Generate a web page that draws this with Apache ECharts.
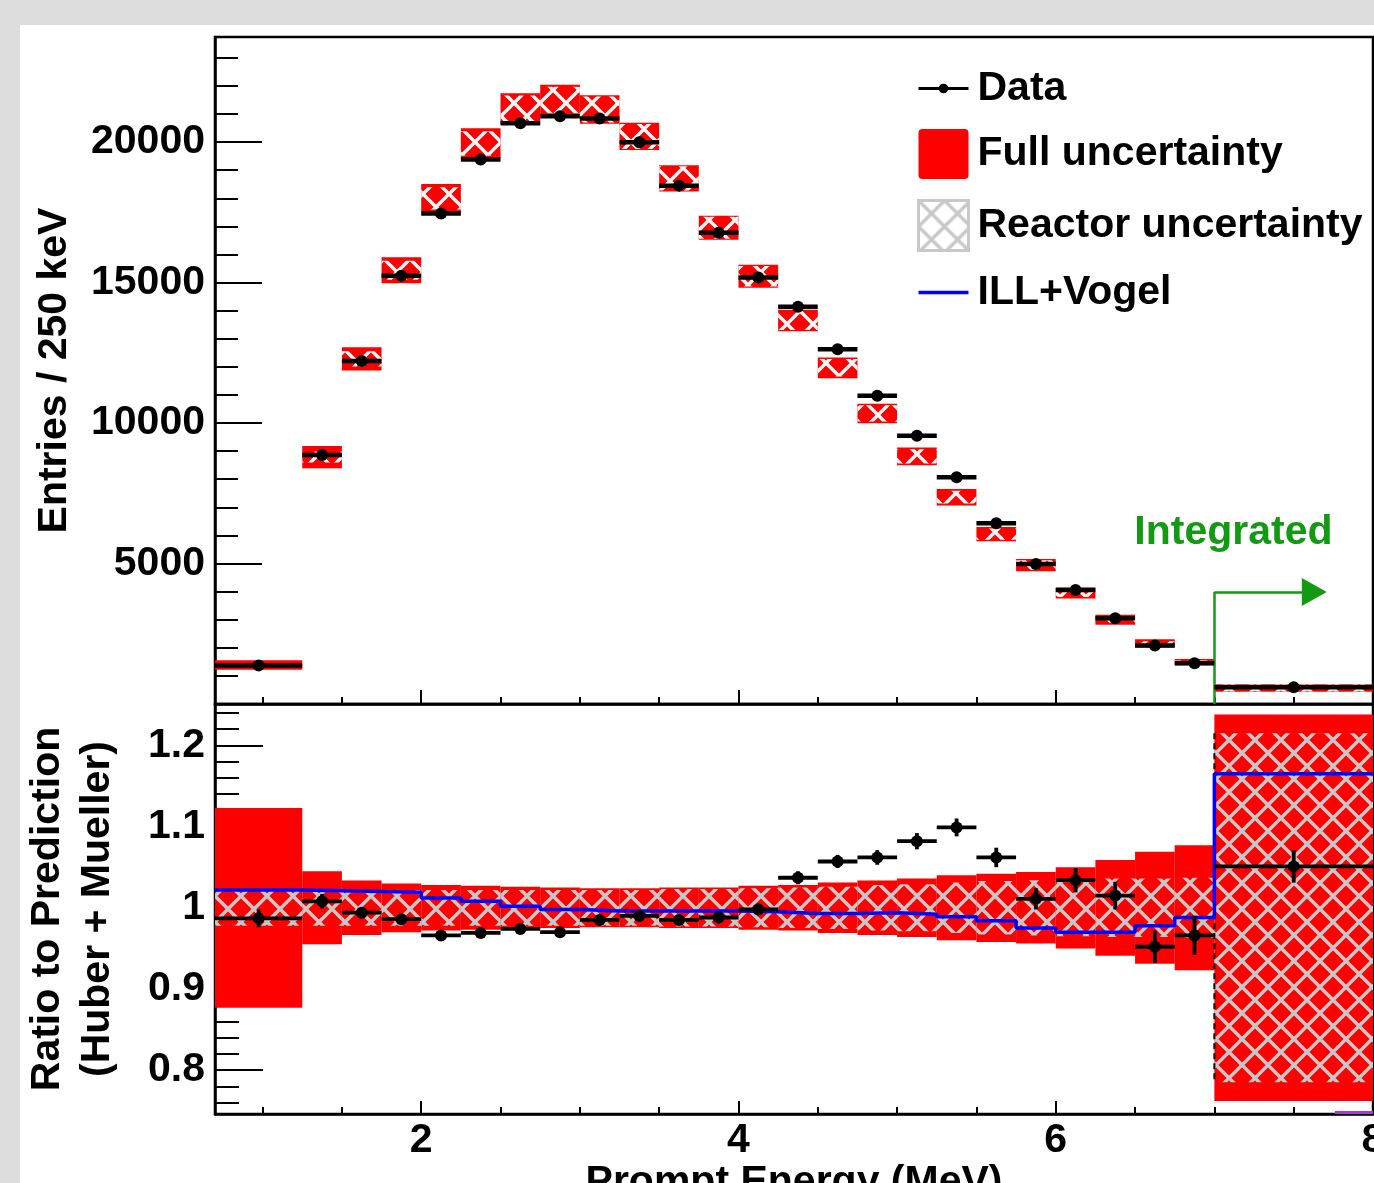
<!DOCTYPE html>
<html>
<head>
<meta charset="utf-8">
<title>Prompt energy spectrum</title>
<script src="https://cdn.jsdelivr.net/npm/echarts@6/dist/echarts.min.js"></script>
<style>
  html, body { margin: 0; padding: 0; background: #dcdcdc; }
  #chart { position: absolute; left: 20px; top: 25px; width: 1354px; height: 1158px; background: #fff; }
</style>
</head>
<body>
<div id="chart"></div>
<script>
// bin edges (MeV): first bin is wide, last one is the integrated 7-8 MeV bin
const edges = [0.7, 1.25, 1.5, 1.75, 2.0, 2.25, 2.5, 2.75, 3.0, 3.25, 3.5, 3.75, 4.0,
  4.25, 4.5, 4.75, 5.0, 5.25, 5.5, 5.75, 6.0, 6.25, 6.5, 6.75, 7.0, 8.0];

// top panel: measured entries and predicted (box centre)
const counts = [1370, 8860, 12210, 15240, 17460, 19380, 20670, 20920, 20840, 19990, 18450, 16770,
  15180, 14140, 12630, 10970, 9550, 8070, 6430, 4980, 4060, 3050, 2080, 1450, 595];
const predicted = [1385, 8790, 12285, 15440, 18000, 19950, 21190, 21500, 21160, 20200, 18710, 16950,
  15225, 13650, 11965, 10340, 8815, 7360, 6050, 4945, 3950, 3000, 2160, 1490, 570];

// bottom panel: ratio to prediction and its error
const ratio = [0.987, 1.008, 0.994, 0.986, 0.966, 0.969, 0.974, 0.970, 0.985, 0.990, 0.985, 0.988,
  0.998, 1.037, 1.057, 1.062, 1.082, 1.099, 1.062, 1.011, 1.034, 1.015, 0.952, 0.966, 1.051];
const ratioErr = [0.011, 0.009, 0.007, 0.006, 0.006, 0.006, 0.006, 0.006, 0.006, 0.006, 0.006, 0.007,
  0.007, 0.008, 0.008, 0.009, 0.010, 0.011, 0.012, 0.013, 0.015, 0.017, 0.020, 0.024, 0.020];

// relative uncertainties (half widths)
const fullUnc = [0.123, 0.045, 0.0335, 0.030, 0.028, 0.027, 0.026, 0.025, 0.024, 0.024, 0.025, 0.025,
  0.027, 0.028, 0.031, 0.0335, 0.036, 0.040, 0.042, 0.044, 0.050, 0.059, 0.069, 0.077, 0.238];
const reactorUnc = [0.022, 0.022, 0.022, 0.022, 0.022, 0.022, 0.022, 0.022, 0.022, 0.022, 0.023, 0.023,
  0.024, 0.025, 0.026, 0.028, 0.029, 0.031, 0.033, 0.034, 0.035, 0.036, 0.036, 0.037, 0.215];

// ILL+Vogel / (Huber + Mueller)
const illVogel = [1.022, 1.021, 1.020, 1.019, 1.012, 1.008, 1.002, 0.998, 0.996, 0.996, 0.996, 0.996,
  0.995, 0.993, 0.993, 0.994, 0.992, 0.989, 0.984, 0.975, 0.970, 0.970, 0.978, 0.988, 1.165];

// short purple curve clipped at the bottom right edge
const clippedCurve = [[7.76, 0.748], [8.0, 0.748]];

const xMajorTicks = [2, 4, 6, 8];
const yTopLabels = [5000, 10000, 15000, 20000];
const yBottomLabels = [0.8, 0.9, 1, 1.1, 1.2];

const FONT = 'Liberation Sans';
const GREEN = '#129a12';

function range(a, b, step) {
  const out = [];
  for (let v = a; v <= b + step / 2; v += step) out.push(Math.round(v * 1000) / 1000);
  return out;
}
const xMinorTicks = range(1, 8, 0.5);
const yTopMinor = range(1000, 23000, 1000);
const yBottomMinor = range(0.76, 1.24, 0.02);

// cross-hatch tile, diamonds repeat every size/2 px
function hatch(color, size, width) {
  const c = document.createElement('canvas');
  c.width = c.height = size;
  const ctx = c.getContext('2d');
  ctx.strokeStyle = color;
  ctx.lineWidth = width;
  ctx.beginPath();
  for (const k of [-size, 0, size]) {
    ctx.moveTo(k - 2, -2); ctx.lineTo(k + size + 2, size + 2);
    ctx.moveTo(k - 2, size + 2); ctx.lineTo(k + size + 2, -2);
  }
  ctx.stroke();
  return { image: c, repeat: 'repeat' };
}
const hatchTop = hatch('#f8f8f8', 26, 3.4);
const hatchBottom = hatch('#c8c8c8', 26, 3.4);

const bins = edges.slice(0, -1).map((e, i) => [e, edges[i + 1]]);
const band = (centre, unc) => bins.map(([lo, hi], i) => {
  const c = Array.isArray(centre) ? centre[i] : centre;
  return [lo, hi, c * (1 - unc[i]), c * (1 + unc[i])];
});
const topPoints = bins.map(([lo, hi], i) => [lo, hi, counts[i], 0]);
const ratioPoints = bins.map(([lo, hi], i) => [lo, hi, ratio[i], ratioErr[i]]);
const illLine = bins.map(([lo], i) => [lo, illVogel[i]]).concat([[edges[edges.length - 1], illVogel[illVogel.length - 1]]]);

function boxItem(fill, dashLast) {
  return function (params, api) {
    const a = api.coord([api.value(0), api.value(3)]);
    const b = api.coord([api.value(1), api.value(2)]);
    const children = [{
      type: 'rect',
      shape: { x: a[0], y: a[1], width: b[0] - a[0], height: b[1] - a[1] },
      style: { fill }
    }];
    if (dashLast && params.dataIndex === params.dataInsideLength - 1) {
      children.push({
        type: 'line',
        shape: { x1: a[0], y1: a[1], x2: a[0], y2: b[1] },
        style: { stroke: '#000', lineWidth: 2, lineDash: [6, 4] }
      });
    }
    return { type: 'group', children };
  };
}

function pointItem(barW, dotR, errW) {
  return function (params, api) {
    const y = api.value(2), e = api.value(3);
    const l = api.coord([api.value(0), y]);
    const r = api.coord([api.value(1), y]);
    const xc = (l[0] + r[0]) / 2;
    const children = [
      { type: 'line', shape: { x1: l[0], y1: l[1], x2: r[0], y2: r[1] }, style: { stroke: '#000', lineWidth: barW } },
      { type: 'circle', shape: { cx: xc, cy: l[1], r: dotR }, style: { fill: '#000' } }
    ];
    if (e > 0) {
      const t = api.coord([api.value(0), y + e]);
      const b = api.coord([api.value(0), y - e]);
      children.push({ type: 'line', shape: { x1: xc, y1: t[1], x2: xc, y2: b[1] }, style: { stroke: '#000', lineWidth: errW } });
    }
    return { type: 'group', children };
  };
}

const axisFont = { fontFamily: FONT, fontWeight: 'bold', fontSize: 41, color: '#000' };
const tickStyle = { color: '#000', width: 2 };
const frameStyle = { color: '#000', width: 2.5 };

function ticksOnly(dim, gridIndex, min, max, values, length) {
  return {
    gridIndex, type: 'value', position: dim === 'x' ? 'bottom' : 'left', min, max,
    axisLine: { show: false },
    axisTick: { show: true, inside: true, length, customValues: values, lineStyle: tickStyle },
    axisLabel: { show: false },
    splitLine: { show: false }
  };
}

const chart = echarts.init(document.getElementById('chart'));

chart.setOption({
  animation: false,
  backgroundColor: '#fff',
  grid: [
    { left: 195, right: 1, top: 12, height: 667, show: true, borderColor: '#000', borderWidth: 2.5, outerBoundsMode: 'none' },
    { left: 195, right: 1, top: 679, height: 410, show: true, borderColor: '#000', borderWidth: 2.5, outerBoundsMode: 'none' }
  ],
  xAxis: [
    ticksOnly('x', 0, 0.7, 8, xMinorTicks, 7),
    {
      gridIndex: 0, type: 'value', position: 'bottom', min: 0.7, max: 8,
      axisLine: { onZero: false, lineStyle: frameStyle },
      axisTick: { inside: true, length: 14, customValues: xMajorTicks, lineStyle: tickStyle },
      axisLabel: { show: false },
      splitLine: { show: false }
    },
    ticksOnly('x', 1, 0.7, 8, xMinorTicks, 7),
    {
      gridIndex: 1, type: 'value', position: 'bottom', min: 0.7, max: 8,
      axisLine: { onZero: false, lineStyle: frameStyle },
      axisTick: { inside: true, length: 13, customValues: xMajorTicks, lineStyle: tickStyle },
      axisLabel: { customValues: xMajorTicks, margin: 6, formatter: v => String(v), ...axisFont },
      splitLine: { show: false },
      name: 'Prompt Energy (MeV)', nameLocation: 'middle', nameGap: 35, nameTextStyle: axisFont
    }
  ],
  yAxis: [
    ticksOnly('y', 0, 0, 23740, yTopMinor, 23),
    {
      gridIndex: 0, type: 'value', position: 'left', min: 0, max: 23740,
      axisLine: { onZero: false, lineStyle: frameStyle },
      axisTick: { inside: true, length: 47, customValues: yTopLabels, lineStyle: tickStyle },
      axisLabel: { customValues: yTopLabels, margin: 10, formatter: v => String(v), ...axisFont },
      splitLine: { show: false },
      name: 'Entries / 250 keV', nameLocation: 'middle', nameGap: 140, nameTextStyle: axisFont
    },
    ticksOnly('y', 1, 0.746, 1.251, yBottomMinor, 24),
    {
      gridIndex: 1, type: 'value', position: 'left', min: 0.746, max: 1.251,
      axisLine: { onZero: false, lineStyle: frameStyle },
      axisTick: { inside: true, length: 48, customValues: yBottomLabels, lineStyle: tickStyle },
      axisLabel: { customValues: yBottomLabels, margin: 10, formatter: v => String(v), ...axisFont },
      splitLine: { show: false },
      name: 'Ratio to Prediction\n(Huber + Mueller)', nameLocation: 'middle', nameGap: 92,
      nameTextStyle: { ...axisFont, lineHeight: 50, align: 'center' }
    }
  ],
  legend: {
    left: 897, top: 43, orient: 'vertical', padding: 0,
    itemWidth: 50, itemHeight: 50, itemGap: 20, selectedMode: false,
    textStyle: { ...axisFont, padding: [0, 0, 0, 4] },
    data: [
      { name: 'Data', icon: 'path://M0,3.5L47,3.5L47,6.5L0,6.5Z M23.5,0.5A4.5,4.5,0,1,1,23.49,0.5Z' },
      { name: 'Full uncertainty', icon: 'path://M4,0H46Q50,0,50,4V46Q50,50,46,50H4Q0,50,0,46V4Q0,0,4,0Z' },
      { name: 'Reactor uncertainty', icon: 'rect', itemStyle: { color: hatchBottom, borderColor: '#c8c8c8', borderWidth: 3 } },
      { name: 'ILL+Vogel', icon: 'path://M0,0H47V3.4H0Z', itemStyle: { color: '#0000ff' } }
    ]
  },
  series: [
    // top panel
    {
      name: 'Full uncertainty', type: 'custom', xAxisIndex: 1, yAxisIndex: 1, clip: true,
      itemStyle: { color: '#ff0000' }, encode: { x: [0, 1], y: [2, 3] },
      data: band(predicted, fullUnc), renderItem: boxItem('#ff0000', false), z: 2
    },
    {
      name: 'Reactor uncertainty', type: 'custom', xAxisIndex: 1, yAxisIndex: 1, clip: true,
      itemStyle: { color: hatchBottom }, encode: { x: [0, 1], y: [2, 3] },
      data: band(predicted, reactorUnc), renderItem: boxItem(hatchTop, false), z: 3
    },
    {
      name: 'Data', type: 'custom', xAxisIndex: 1, yAxisIndex: 1, clip: true,
      itemStyle: { color: '#000' }, encode: { x: [0, 1], y: 2 },
      data: topPoints, renderItem: pointItem(4.5, 6, 0), z: 5,
      markLine: {
        silent: true, symbol: ['none', 'none'],
        lineStyle: { color: GREEN, width: 2.5, type: 'solid' },
        label: { show: false },
        data: [
          [{ coord: [7, 0] }, { coord: [7, 3990] }],
          [{ coord: [7, 3990] }, { coord: [7.63, 3990], symbol: 'triangle', symbolSize: [28, 25] }]
        ]
      },
      markPoint: {
        silent: true, symbol: 'rect', symbolSize: 1, itemStyle: { color: 'transparent' },
        label: { show: true, position: 'inside', formatter: 'Integrated', ...axisFont, color: GREEN },
        data: [{ coord: [7.12, 6100] }]
      }
    },
    // bottom panel
    {
      name: 'Full uncertainty', type: 'custom', xAxisIndex: 3, yAxisIndex: 3, clip: true,
      itemStyle: { color: '#ff0000' }, encode: { x: [0, 1], y: [2, 3] },
      data: band(1, fullUnc), renderItem: boxItem('#ff0000', false), z: 2
    },
    {
      name: 'Reactor uncertainty', type: 'custom', xAxisIndex: 3, yAxisIndex: 3, clip: true,
      itemStyle: { color: hatchBottom }, encode: { x: [0, 1], y: [2, 3] },
      data: band(1, reactorUnc), renderItem: boxItem(hatchBottom, true), z: 3
    },
    {
      name: 'ILL+Vogel', type: 'line', xAxisIndex: 3, yAxisIndex: 3, step: 'end',
      symbol: 'none', data: illLine, z: 4,
      lineStyle: { color: '#0000ff', width: 3.5 }, itemStyle: { color: '#0000ff' }
    },
    {
      name: 'Data', type: 'custom', xAxisIndex: 3, yAxisIndex: 3, clip: true,
      itemStyle: { color: '#000' }, encode: { x: [0, 1], y: 2 },
      data: ratioPoints, renderItem: pointItem(3.8, 6, 3.8), z: 5
    },
    {
      type: 'line', xAxisIndex: 3, yAxisIndex: 3, symbol: 'none', silent: true,
      data: clippedCurve, lineStyle: { color: '#a63cc8', width: 3 }, z: 4
    }
  ]
});

window.addEventListener('resize', () => chart.resize());
</script>
</body>
</html>
